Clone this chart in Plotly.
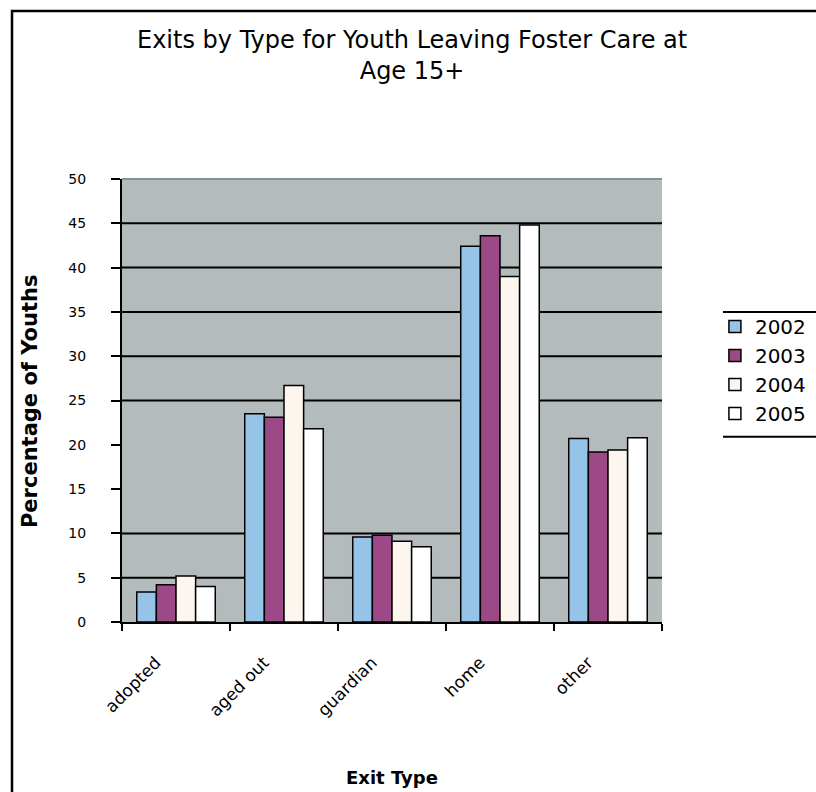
import plotly.graph_objects as go

categories = ["adopted", "aged out", "guardian", "home", "other"]
years = ["2002", "2003", "2004", "2005"]
values_2002 = [3.4, 23.5, 9.6, 42.4, 20.7]
values_2003 = [4.2, 23.1, 9.8, 43.6, 19.2]
values_2004 = [5.2, 26.7, 9.1, 39.0, 19.4]
values_2005 = [4.0, 21.8, 8.5, 44.8, 20.8]
series = [values_2002, values_2003, values_2004, values_2005]
colors = ["#96C3E8", "#9D4988", "#FCF6EE", "#FFFFFF"]
y_ticks = [0, 5, 10, 15, 20, 25, 30, 35, 40, 45, 50]
gridline_values = [5, 10, 25, 30, 35, 40, 45]

FONT = "DejaVu Sans"

fig = go.Figure()
for name, vals, col in zip(years, series, colors):
    fig.add_trace(go.Bar(
        x=categories, y=vals, name=name,
        marker=dict(color=col, line=dict(color="black", width=1.5)),
    ))

shapes = []
for g in gridline_values:
    shapes.append(dict(type="line", xref="paper", yref="y", x0=0, x1=1, y0=g, y1=g,
                       line=dict(color="black", width=2), layer="below"))
# top edge of plot area
shapes.append(dict(type="line", xref="paper", yref="paper", x0=0, x1=1, y0=1, y1=1,
                   line=dict(color="#8A9090", width=2), layer="below"))
# outer chart border
shapes.append(dict(type="rect", xref="paper", yref="paper", x0=-0.2037, x1=1.5,
                   y0=-0.5, y1=1.379, line=dict(color="black", width=2.5),
                   fillcolor="rgba(0,0,0,0)", layer="below"))
# legend border (top and bottom lines)
shapes.append(dict(type="line", xref="paper", yref="paper", x0=1.113, x1=1.3,
                   y0=0.700, y1=0.700, line=dict(color="black", width=2)))
shapes.append(dict(type="line", xref="paper", yref="paper", x0=1.113, x1=1.3,
                   y0=0.418, y1=0.418, line=dict(color="black", width=2)))

fig.update_layout(
    width=816, height=792,
    margin=dict(l=122, r=154, t=179, b=170, autoexpand=False),
    paper_bgcolor="white",
    plot_bgcolor="#B4BBBC",
    barmode="group",
    bargap=0.273,
    bargroupgap=0,
    font=dict(family=FONT, color="black"),
    title=dict(
        text="Exits by Type for Youth Leaving Foster Care at<br>Age 15+",
        x=0.505, xref="container", xanchor="center",
        y=1 - 48 / 792, yref="container", yanchor="top",
        font=dict(family=FONT, size=24, color="black"),
    ),
    xaxis=dict(
        type="category",
        tickson="boundaries",
        ticks="outside", ticklen=7, tickwidth=2, tickcolor="black",
        tickangle=-45,
        ticklabelshift=-20,
        ticklabelstandoff=22,
        tickfont=dict(family=FONT, size=17, color="black"),
        showline=True, linecolor="black", linewidth=2,
        showgrid=False,
    ),
    yaxis=dict(
        range=[0, 50],
        tickvals=y_ticks,
        ticks="outside", ticklen=9, tickwidth=2, tickcolor="black",
        ticklabelstandoff=22,
        tickfont=dict(family=FONT, size=14, color="black"),
        showline=True, linecolor="black", linewidth=2,
        showgrid=False, zeroline=False,
    ),
    legend=dict(
        x=1.098, xanchor="left", y=0.711, yanchor="top",
        font=dict(family=FONT, size=20, color="black"),
        bgcolor="rgba(0,0,0,0)", borderwidth=0,
        itemwidth=30,
    ),
    shapes=shapes,
    annotations=[
        dict(text="<b>Percentage of Youths</b>", xref="paper", yref="paper",
             x=-0.170, y=0.497, xanchor="center", yanchor="middle",
             textangle=-90, showarrow=False,
             font=dict(family=FONT, size=21, color="black")),
        dict(text="<b>Exit Type</b>", xref="paper", yref="paper",
             x=0.5, y=-0.352, xanchor="center", yanchor="middle", showarrow=False,
             font=dict(family=FONT, size=18, color="black")),
    ],
)

fig.write_html("out.html")
